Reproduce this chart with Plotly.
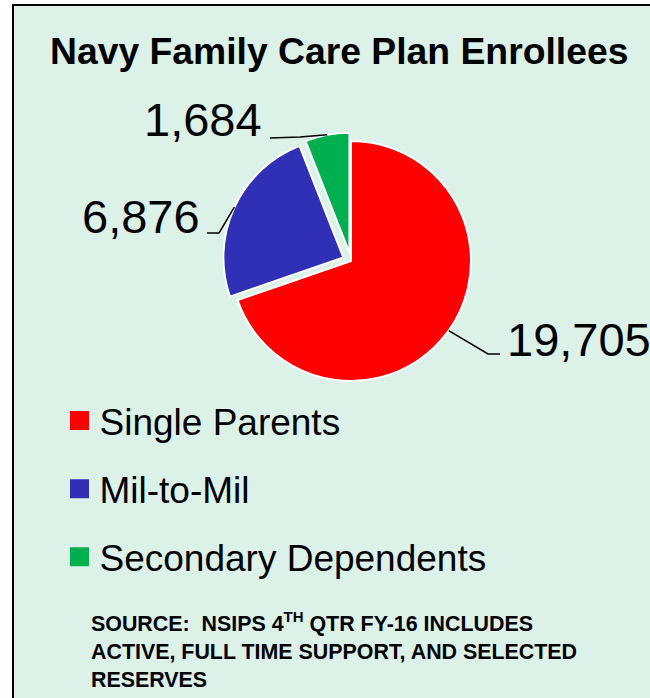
import math
import plotly.graph_objects as go

# ---- data ----
categories = ["Single Parents", "Mil-to-Mil", "Secondary Dependents"]
values = [19705, 6876, 1684]
colors = ["#FF0000", "#3030B6", "#00B050"]
pulls = [0.0, 0.07, 0.07]

title_text = "Navy Family Care Plan Enrollees"
source_text = ("SOURCE:  NSIPS 4<sup>TH</sup> QTR FY-16 INCLUDES<br>"
               "ACTIVE, FULL TIME SUPPORT, AND SELECTED<br>RESERVES")

# ---- layout constants (pixels) ----
W, H = 650, 698
BG = "#DCF1E7"
CX, CY, R = 351, 261, 120          # pie centre and radius
FONT = "Arial, Liberation Sans, sans-serif"

# label placement per slice: (text x, text y centre, xanchor, hook end x, hook end y, elbow x, elbow y)
label_layout = [
    (505, 339, "left", 500, 354, 488, 354),
    (202, 216, "right", 207, 233, 219, 233),
    (264, 120, "right", 270, 138, 300, 137),
]


def px(x):
    return x / W


def py(y):
    return 1 - y / H


maxpull = max(pulls)
half = R * (1 + maxpull)

fig = go.Figure()

fig.add_trace(go.Pie(
    labels=categories,
    values=values,
    sort=False,
    direction="clockwise",
    rotation=0,
    pull=pulls,
    marker=dict(colors=colors, line=dict(color="white", width=2)),
    textinfo="none",
    hoverinfo="label+value",
    showlegend=False,
    domain=dict(x=[px(CX - half), px(CX + half)],
                y=[py(CY + half), py(CY - half)]),
))

# legend entries (one per category)
for cat, col in zip(categories, colors):
    fig.add_trace(go.Scatter(
        x=[None], y=[None], mode="markers", name=cat, legendgroup=cat,
        marker=dict(symbol="square", size=16, color=col, line=dict(color=col, width=3)),
        showlegend=True, hoverinfo="skip",
    ))

# value labels with leader lines, from slice angles
total = sum(values)
cum = 0.0
annotations = []
shapes = [dict(type="rect", xref="paper", yref="paper",
               x0=px(13), x1=1.1, y0=-0.1, y1=py(5),
               line=dict(color="black", width=2), fillcolor=BG, layer="below")]
for v, p, lay in zip(values, pulls, label_layout):
    frac = v / total
    theta = 2 * math.pi * (cum + frac / 2)
    cum += frac
    sx = CX + (p * R + R) * math.sin(theta)
    sy = CY - (p * R + R) * math.cos(theta)
    tx, ty, xa, ex, ey, bx, by = lay
    annotations.append(dict(
        x=px(tx), y=py(ty), xref="paper", yref="paper", xanchor=xa, yanchor="middle",
        text=f"{v:,}", showarrow=False, font=dict(size=47, color="black", family=FONT)))
    shapes.append(dict(
        type="path", xref="paper", yref="paper",
        path=f"M {px(sx)} {py(sy)} L {px(bx)} {py(by)} L {px(ex)} {py(ey)}",
        line=dict(color="black", width=1.5), layer="above"))

annotations.append(dict(
    x=px(339), y=py(51), xref="paper", yref="paper", xanchor="center", yanchor="middle",
    text=f"<b>{title_text}</b>", showarrow=False,
    font=dict(size=37.3, color="black", family=FONT)))

annotations.append(dict(
    x=px(89), y=py(606), xref="paper", yref="paper", xanchor="left", yanchor="top",
    align="left", text=f"<b>{source_text}</b>", showarrow=False,
    font=dict(size=21.4, color="black", family=FONT)))

fig.update_layout(
    width=W, height=H,
    margin=dict(l=0, r=0, t=0, b=0),
    paper_bgcolor="white",
    plot_bgcolor="rgba(0,0,0,0)",
    xaxis=dict(visible=False),
    yaxis=dict(visible=False),
    showlegend=True,
    legend=dict(x=px(59.5), y=py(390), xanchor="left", yanchor="top",
                bgcolor="rgba(0,0,0,0)", font=dict(size=37, color="black", family=FONT),
                tracegroupgap=17, itemclick=False),
    annotations=annotations,
    shapes=shapes,
)

fig.write_html("out.html",
               config={"displayModeBar": False},
               post_script="document.body.style.margin='0';document.body.style.overflow='hidden';")
